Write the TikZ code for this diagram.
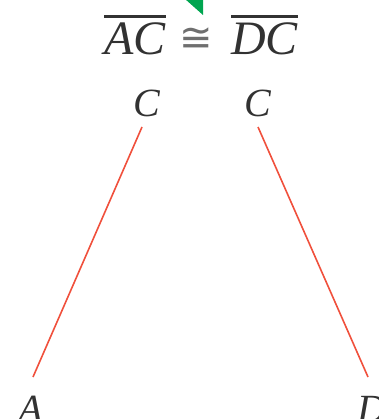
\documentclass[tikz,border=0pt]{standalone}
\usepackage{fontspec}
\setmainfont{Liberation Serif}
\newfontfamily\symfont{DejaVu Sans}
\definecolor{segred}{RGB}{240,80,60}
\definecolor{arrowgreen}{RGB}{0,165,80}
\definecolor{txt}{RGB}{50,50,50}
\newcommand\myovl[1]{\vbox{\hrule height 2.4pt\kern 5.5pt\hbox{#1}}}
\begin{document}
\begin{tikzpicture}[x=1pt,y=-1pt,
  lbl/.style={text=txt,inner sep=0pt,anchor=base,font=\fontsize{40}{44}\selectfont\itshape},
  eqn/.style={text=txt,inner sep=0pt,anchor=base west,font=\fontsize{48}{52}\selectfont\itshape},
  seg/.style={draw=segred,line width=1.6pt}]
\useasboundingbox (0,0) rectangle (378,419);
\fill[arrowgreen] (185,-1) -- (203,-1) -- (203,15) -- cycle;
\node[eqn] (eq) at (104,55) {\myovl{AC}\hspace{14pt}\raisebox{3pt}{\fontsize{40}{44}\symfont\upshape\color{txt!70}≅}\hspace{18pt}\myovl{DC}};
\node[lbl] (c1) at (147,117) {C};
\node[lbl] (c2) at (258,117) {C};
\node[lbl] (a) at (31,422) {A};
\node[lbl] (d) at (372,422) {D};
\coordinate (l1) at (142,127);
\coordinate (l2) at (33,377);
\coordinate (r1) at (258,127);
\coordinate (r2) at (368,377);
\draw[seg] (l1) -- (l2);
\draw[seg] (r1) -- (r2);
\end{tikzpicture}
\end{document}
